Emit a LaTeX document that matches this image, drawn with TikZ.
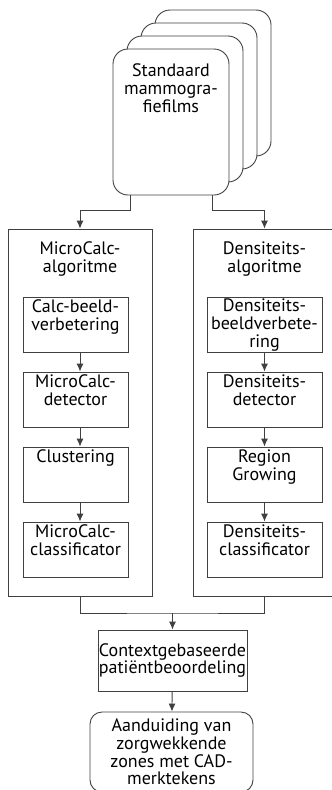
\documentclass[tikz,border=0pt]{standalone}
\usepackage{fontspec}
\setmainfont{PT Sans}
\usepackage{tikz}
\usetikzlibrary{arrows.meta,positioning}
\colorlet{linegray}{black!75}
\tikzstyle{film}=[rectangle,draw=linegray,line width=0.9pt,fill=white,rounded corners=15pt,minimum width=116pt,minimum height=146pt]
\tikzstyle{group}=[rectangle,draw=linegray,line width=0.9pt,minimum width=144pt,minimum height=367pt]
\tikzstyle{stage}=[rectangle,draw=linegray,line width=0.9pt,minimum height=55pt]
\tikzstyle{txt}=[align=center,inner sep=0pt,font=\fontsize{18}{17.7}\selectfont]

\begin{document}
\begin{tikzpicture}[x=1pt,y=-1pt,>={Latex[length=8pt,width=7pt]},line width=0.9pt,draw=linegray]
        \clip (0,0) rectangle (332,790);

        % stapel films
        \node at (213,83)  [film] (f4) {};
        \node at (199,96)  [film] (f3) {};
        \node at (185,109) [film] (f2) {};
        \node at (171,122) [film] (f1) {};
        \node [txt,below=15pt of f1.north] (f1t) {Standaard\\mammogra-\\fiefilms};

        % twee algoritmen
        \node at (80,412.5)  [group] (mc) {};
        \node at (264.5,412.5) [group,minimum width=143pt] (dn) {};
        \node [txt,below=13pt of mc.north] (mct) {MicroCalc-\\algoritme};
        \node [txt,below=13pt of dn.north] (dnt) {Densiteits-\\algoritme};

        \node at (75.5,324.5) [stage,minimum width=105pt] (mc1) {};
        \node at (75.5,399.5) [stage,minimum width=105pt] (mc2) {};
        \node at (75.5,474.5) [stage,minimum width=105pt] (mc3) {};
        \node at (75.5,549.5) [stage,minimum width=105pt] (mc4) {};
        \node [txt,below=3pt of mc1.north] (mc1t) {Calc-beeld-\\verbetering};
        \node [txt,below=3pt of mc2.north] (mc2t) {MicroCalc-\\detector};
        \node [txt,below=3pt of mc3.north] (mc3t) {Clustering};
        \node [txt,below=3pt of mc4.north] (mc4t) {MicroCalc-\\classificator};

        \node at (264.5,324.5) [stage,minimum width=115pt] (dn1) {};
        \node at (264.5,399.5) [stage,minimum width=115pt] (dn2) {};
        \node at (264.5,474.5) [stage,minimum width=115pt] (dn3) {};
        \node at (264.5,549.5) [stage,minimum width=115pt] (dn4) {};
        \node [txt,below=2pt of dn1.north] (dn1t) {Densiteits-\\beeldverbete-\\ring};
        \node [txt,below=3pt of dn2.north] (dn2t) {Densiteits-\\detector};
        \node [txt,below=3pt of dn3.north] (dn3t) {Region\\Growing};
        \node [txt,below=3pt of dn4.north] (dn4t) {Densiteits-\\classificator};

        % beoordeling
        \coordinate (join) at (172.5,613);
        \node at (172.5,660.5) [stage,txt,inner sep=0pt,minimum width=149pt,minimum height=61pt] (ctx) {Contextgebaseerde\\patiëntbeoordeling};
        \node at (171.5,752) [stage,txt,rounded corners=12pt,minimum width=163pt,minimum height=80pt] (mark) {Aanduiding van\\zorgwekkende\\zones met CAD-\\merktekens};

        \draw [->] ([xshift=-41pt]f1.south) -- ++(0,15) -| (mc.north);
        \draw [->] ([xshift=41pt]f1.south) -- ++(0,15) -| (dn.north);

        \draw [->] (mc1.south -| mc.north) -- (mc2.north -| mc.north);
        \draw [->] (mc2.south -| mc.north) -- (mc3.north -| mc.north);
        \draw [->] (mc3.south -| mc.north) -- (mc4.north -| mc.north);
        \draw [->] (dn1) -- (dn2);
        \draw [->] (dn2) -- (dn3);
        \draw [->] (dn3) -- (dn4);

        \draw (mc.south) |- (join) -| (dn.south);
        \draw [->] (join) -- (ctx);
        \draw [->] (ctx) -- (mark);
\end{tikzpicture}
\end{document}
